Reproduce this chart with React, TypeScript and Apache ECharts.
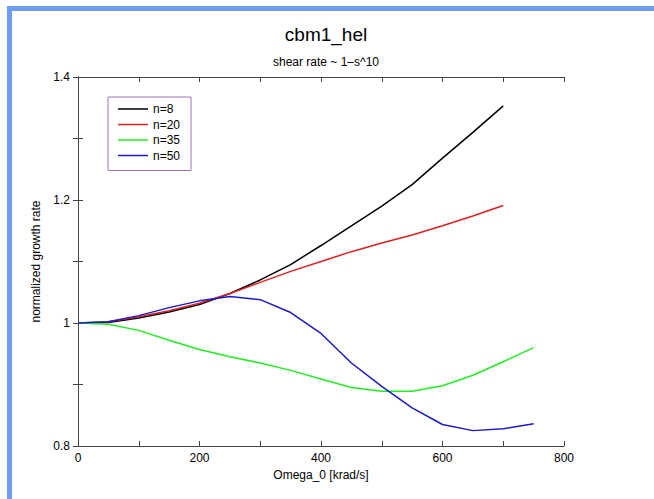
import React, { useEffect, useRef } from "react";
import * as echarts from "echarts";

const omega = [0, 50, 100, 150, 200, 250, 300, 350, 400, 450, 500, 550, 600, 650, 700, 750];
const n8 = [1.0, 1.001, 1.008, 1.018, 1.03, 1.048, 1.07, 1.095, 1.126, 1.158, 1.19, 1.225, 1.268, 1.31, 1.353];
const n20 = [1.0, 1.002, 1.01, 1.02, 1.032, 1.048, 1.066, 1.084, 1.1, 1.116, 1.13, 1.143, 1.158, 1.174, 1.191];
const n35 = [1.0, 0.998, 0.988, 0.972, 0.957, 0.945, 0.935, 0.923, 0.909, 0.895, 0.889, 0.889, 0.898, 0.915, 0.937, 0.96];
const n50 = [1.0, 1.002, 1.012, 1.025, 1.036, 1.043, 1.038, 1.017, 0.983, 0.935, 0.897, 0.862, 0.835, 0.825, 0.828, 0.836];
const seriesNames = ["n=8", "n=20", "n=35", "n=50"];
const seriesColors = ["#000000", "#dd2020", "#22ee22", "#1a1acc"];
const seriesData = [n8, n20, n35, n50];
const xTicks = { min: 0, max: 800, interval: 200 };
const yTicks = { min: 0.8, max: 1.4, interval: 0.2 };

const FONT = "Liberation Sans, Arial, sans-serif";

export default function App() {
  const ref = useRef<HTMLDivElement>(null);
  useEffect(() => {
    if (!ref.current) return;
    const chart = echarts.init(ref.current, undefined, { renderer: "svg" });
    const axisCommon = {
      type: "value" as const,
      splitLine: { show: false },
      axisLine: { show: true, lineStyle: { color: "#444", width: 1 } },
      axisTick: { show: true, inside: true, length: 5, lineStyle: { color: "#444" } },
      minorTick: { show: true, splitNumber: 2, length: 5, lineStyle: { color: "#444" } },
    };
    chart.setOption({
      animation: false,
      backgroundColor: "#ffffff",
      textStyle: { fontFamily: FONT },
      title: [
        {
          text: "cbm1_hel",
          left: 321,
          top: 20,
          textAlign: "center",
          textStyle: { fontFamily: FONT, fontSize: 19, fontWeight: "normal", color: "#000" },
        },
        {
          text: "shear rate ~ 1\u2013s^10",
          left: 321,
          top: 51,
          textAlign: "center",
          textStyle: { fontFamily: FONT, fontSize: 12, fontWeight: "normal", color: "#000" },
        },
      ],
      legend: {
        orient: "vertical",
        left: 108,
        top: 97,
        data: seriesNames.map((n) => ({ name: n, icon: "rect" })),
        itemWidth: 30,
        itemHeight: 1.5,
        itemGap: 3.5,
        itemTextGap: 7,
        padding: [6, 11, 9, 10],
        borderColor: "#a070c0",
        borderWidth: 1,
        backgroundColor: "#fff",
        textStyle: { fontFamily: FONT, fontSize: 12, color: "#000" },
      },
      grid: { left: 78, right: 90, top: 77, bottom: 53 },
      xAxis: [
        {
          ...axisCommon,
          position: "bottom",
          min: xTicks.min,
          max: xTicks.max,
          interval: xTicks.interval,
          name: "Omega_0 [krad/s]",
          nameLocation: "middle",
          nameGap: 22,
          nameTextStyle: { fontFamily: FONT, fontSize: 12, color: "#000" },
          axisLabel: { fontFamily: FONT, fontSize: 12, color: "#000", margin: 6 },
        },
        {
          ...axisCommon,
          position: "top",
          min: xTicks.min,
          max: xTicks.max,
          interval: xTicks.interval,
          axisLabel: { show: false },
        },
      ],
      yAxis: [
        {
          ...axisCommon,
          position: "left",
          min: yTicks.min,
          max: yTicks.max,
          interval: yTicks.interval,
          name: "normalized growth rate",
          nameLocation: "middle",
          nameGap: 26,
          nameTextStyle: { fontFamily: FONT, fontSize: 12, color: "#000" },
          axisLabel: { fontFamily: FONT, fontSize: 12, color: "#000", margin: 8 },
        },
        {
          ...axisCommon,
          position: "right",
          min: yTicks.min,
          max: yTicks.max,
          interval: yTicks.interval,
          axisLabel: { show: false },
        },
      ],
      graphic: [
        { type: "rect", shape: { x: 7, y: 6, width: 647, height: 5 }, style: { fill: "#6f9cf5" }, z: 100 },
        { type: "rect", shape: { x: 7, y: 6, width: 5, height: 493 }, style: { fill: "#6f9cf5" }, z: 100 },
      ],
      series: seriesData.map((vals, i) => ({
        name: seriesNames[i],
        type: "line",
        xAxisIndex: 0,
        yAxisIndex: 0,
        symbol: "none",
        color: seriesColors[i],
        lineStyle: { color: seriesColors[i], width: 1.5 },
        data: vals.map((v, j) => [omega[j], v]),
      })),
    });
    return () => chart.dispose();
  }, []);
  return (
    <div
      ref={ref}
      style={{ position: "fixed", left: 0, top: 0, width: 654, height: 499 }}
    />
  );
}
